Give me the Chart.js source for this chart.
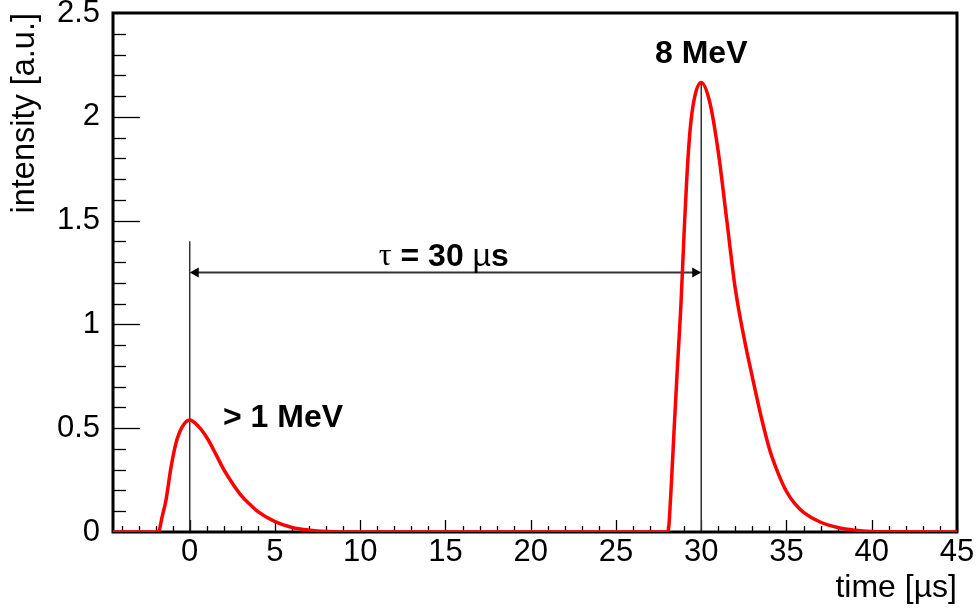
<!DOCTYPE html>
<html>
<head>
<meta charset="utf-8">
<script src="https://cdn.jsdelivr.net/npm/chart.js@4.4.0/dist/chart.umd.min.js"></script>
<style>
  html, body { margin: 0; padding: 0; background: #fff; }
</style>
</head>
<body>
<canvas id="myChart" width="976" height="613"></canvas>
<script>
// values
const timeUs = [-4.5, -1.85, -1.6, -1.4, -1.1, -0.8, -0.45, 0, 0.5, 1.0, 1.5, 2.0, 2.5, 3.0, 3.5, 4.0, 5.0, 6.0, 7.0, 8.0, 10.0,
  28.05, 28.2, 28.4, 28.6, 28.8, 29.0, 29.15, 29.35, 29.6, 30.0, 30.5, 31.0, 31.5, 32.0, 32.5, 33.0, 33.5, 34.0, 34.5, 35.0,
  35.5, 36.0, 37.0, 38.0, 39.0, 40.0, 41.0, 45.0];
const intensity = [0, 0, 0.08, 0.15, 0.31, 0.43, 0.505, 0.54, 0.51, 0.455, 0.38, 0.30, 0.235, 0.178, 0.135, 0.098, 0.05, 0.022, 0.009, 0.003, 0,
  0, 0.16, 0.48, 0.79, 1.08, 1.45, 1.70, 1.94, 2.09, 2.165, 2.07, 1.83, 1.50, 1.17, 0.94, 0.745, 0.56, 0.40, 0.285, 0.195,
  0.135, 0.095, 0.047, 0.022, 0.009, 0.003, 0.001, 0];
const xTicks = [0, 5, 10, 15, 20, 25, 30, 35, 40, 45];
const yTicks = [0, 0.5, 1, 1.5, 2, 2.5];

// annotation values
const firstPulse = 0;
const secondPulse = 30;
const arrowLevel = 1.25;
const firstLineTop = 1.4;
const secondLineTop = 2.17;

const FONT = '"Liberation Sans", Arial, Helvetica, sans-serif';

function line(ctx, x1, y1, x2, y2) {
  ctx.beginPath();
  ctx.moveTo(x1, y1);
  ctx.lineTo(x2, y2);
  ctx.stroke();
}

// ticks inside the frame, marker lines, the arrow and the frame
const framePlugin = {
  id: 'framePlugin',
  beforeDatasetsDraw(chart) {
    const { ctx, chartArea: a, scales: { x, y } } = chart;
    ctx.save();
    ctx.strokeStyle = '#000';
    ctx.lineWidth = 1.3;
    for (let v = -4; v <= 45; v++) {
      const px = Math.round(x.getPixelForValue(v)) + 0.5;
      line(ctx, px, a.bottom, px, a.bottom - (v % 5 === 0 ? 12 : 6));
    }
    for (let i = 1; i < 25; i++) {
      const py = Math.round(y.getPixelForValue(i / 10)) + 0.5;
      line(ctx, a.left, py, a.left + (i % 5 === 0 ? 27 : 13), py);
    }

    // vertical lines at the two pulses
    ctx.strokeStyle = '#333';
    ctx.lineWidth = 1.5;
    const x0 = x.getPixelForValue(firstPulse);
    const x1 = x.getPixelForValue(secondPulse);
    line(ctx, x0, a.bottom, x0, y.getPixelForValue(firstLineTop));
    line(ctx, x1, a.bottom, x1, y.getPixelForValue(secondLineTop));

    // double arrow
    const ya = y.getPixelForValue(arrowLevel);
    ctx.lineWidth = 2;
    line(ctx, x0 + 4, ya, x1 - 4, ya);
    ctx.fillStyle = '#000';
    ctx.beginPath();
    ctx.moveTo(x0, ya); ctx.lineTo(x0 + 9, ya - 5); ctx.lineTo(x0 + 9, ya + 5); ctx.closePath();
    ctx.fill();
    ctx.beginPath();
    ctx.moveTo(x1, ya); ctx.lineTo(x1 - 9, ya - 5); ctx.lineTo(x1 - 9, ya + 5); ctx.closePath();
    ctx.fill();

    // frame
    ctx.strokeStyle = '#000';
    ctx.lineWidth = 3;
    ctx.strokeRect(a.left, a.top, a.right - a.left, a.bottom - a.top);
    ctx.restore();
  },
  afterDatasetsDraw(chart) {
    const { ctx, scales: { x, y } } = chart;
    ctx.save();
    ctx.fillStyle = '#000';
    ctx.textBaseline = 'middle';
    ctx.font = 'bold 32px ' + FONT;
    ctx.textAlign = 'left';
    ctx.fillText('> 1 MeV', x.getPixelForValue(1.95), y.getPixelForValue(0.55));
    ctx.textAlign = 'center';
    ctx.fillText('8 MeV', x.getPixelForValue(30.0), y.getPixelForValue(2.3));

    // tau label, greek letters not bold
    const parts = [
      ['τ', '32px "Liberation Serif", serif'],
      [' = 30 ', 'bold 32px ' + FONT],
      ['µ', '32px ' + FONT],
      ['s', 'bold 32px ' + FONT]
    ];
    let total = 0;
    parts.forEach(p => { ctx.font = p[1]; total += ctx.measureText(p[0]).width; });
    let cx = x.getPixelForValue(14.9) - total / 2;
    const cy = y.getPixelForValue(1.325);
    ctx.textAlign = 'left';
    parts.forEach(p => {
      ctx.font = p[1];
      ctx.fillText(p[0], cx, cy);
      cx += ctx.measureText(p[0]).width;
    });
    ctx.restore();
  }
};

const points = timeUs.map((t, i) => ({ x: t, y: intensity[i] }));

new Chart(document.getElementById('myChart'), {
  type: 'line',
  data: {
    datasets: [{
      data: points,
      borderColor: '#ff0000',
      borderWidth: 3.5,
      pointRadius: 0,
      fill: false,
      cubicInterpolationMode: 'monotone',
      clip: 0
    }]
  },
  options: {
    responsive: false,
    animation: false,
    devicePixelRatio: 1,
    layout: { padding: { top: 13, right: 19, left: 0, bottom: 0 } },
    plugins: { legend: { display: false }, tooltip: { enabled: false } },
    scales: {
      x: {
        type: 'linear',
        min: -4.5,
        max: 45,
        grid: { display: false, drawTicks: false },
        border: { display: false },
        afterBuildTicks: s => { s.ticks = xTicks.map(v => ({ value: v })); },
        afterFit: s => { s.height = 81; s.paddingLeft = 0; s.paddingRight = 0; },
        ticks: {
          color: '#000', padding: 2, maxRotation: 0, autoSkip: false,
          font: { family: FONT, size: 31 },
          callback: v => String(v)
        },
        title: {
          display: true, text: 'time [µs]', align: 'end', color: '#000',
          font: { family: FONT, size: 32 }, padding: { top: 0, bottom: 6 }
        }
      },
      y: {
        min: 0,
        max: 2.5,
        grid: { display: false, drawTicks: false },
        border: { display: false },
        afterBuildTicks: s => { s.ticks = yTicks.map(v => ({ value: v })); },
        afterFit: s => { s.width = 113; s.paddingTop = 0; s.paddingBottom = 0; },
        ticks: {
          color: '#000', padding: 13, autoSkip: false,
          font: { family: FONT, size: 31 },
          callback: v => String(v)
        },
        title: {
          display: true, text: 'intensity [a.u.]', align: 'end', color: '#000',
          font: { family: FONT, size: 32.5 }, padding: { top: 6, bottom: 0 }
        }
      }
    }
  },
  plugins: [framePlugin]
});
</script>
</body>
</html>
